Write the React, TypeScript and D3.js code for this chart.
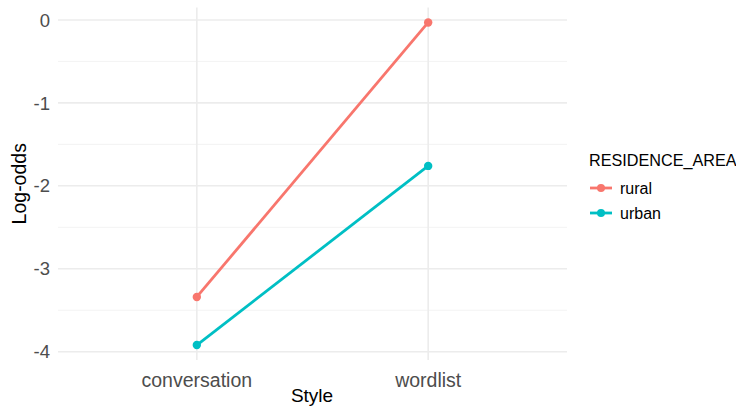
import React from 'react';
import * as d3 from 'd3';

const styles = ['conversation', 'wordlist'];
const areas = ['rural', 'urban'];
const ruralValues = [-3.34, -0.03];
const urbanValues = [-3.92, -1.76];
const yTicks = [0, -1, -2, -3, -4];
const yMinor = [-0.5, -1.5, -2.5, -3.5];
const colors = ['#F8766D', '#00BFC4'];

const W = 736;
const H = 408;
const font = '"Liberation Sans", Arial, Helvetica, sans-serif';

export default function App() {
  const panel = { left: 58, right: 567, top: 7.5, bottom: 360 };

  const x = d3
    .scalePoint<string>()
    .domain(styles)
    .range([panel.left, panel.right])
    .padding(0.6);

  const y = d3.scaleLinear().domain([-4.1, 0.15]).range([panel.bottom, panel.top]);

  const series = [ruralValues, urbanValues];
  const line = d3
    .line<number>()
    .x((_d, i) => x(styles[i]) || 0)
    .y(d => y(d));

  return (
    <svg
      width={W}
      height={H}
      style={{ position: 'absolute', left: 0, top: 0, background: '#fff' }}
      fontFamily={font}
    >
      {/* minor grid */}
      {yMinor.map(t => (
        <line key={'m' + t} x1={panel.left} x2={panel.right} y1={y(t)} y2={y(t)} stroke="#f3f3f3" strokeWidth={1} />
      ))}
      {/* major grid */}
      {yTicks.map(t => (
        <line key={'g' + t} x1={panel.left} x2={panel.right} y1={y(t)} y2={y(t)} stroke="#ececec" strokeWidth={1.6} />
      ))}
      {styles.map(s => (
        <line key={'v' + s} x1={x(s)} x2={x(s)} y1={panel.top} y2={panel.bottom} stroke="#ececec" strokeWidth={1.6} />
      ))}

      {/* lines and points */}
      {series.map((vals, si) => (
        <g key={areas[si]}>
          <path d={line(vals) || ''} fill="none" stroke={colors[si]} strokeWidth={2.8} />
          {vals.map((v, i) => (
            <circle key={i} cx={x(styles[i])} cy={y(v)} r={4.2} fill={colors[si]} />
          ))}
        </g>
      ))}

      {/* y axis labels */}
      {yTicks.map(t => (
        <text key={'yl' + t} x={50} y={y(t)} dy="0.36em" textAnchor="end" fontSize={18.5} fill="#4d4d4d">
          {t === 0 ? '0' : '-' + Math.abs(t)}
        </text>
      ))}
      {/* x axis labels */}
      {styles.map(s => (
        <text key={'xl' + s} x={x(s)} y={387} textAnchor="middle" fontSize={19.5} fill="#4d4d4d">
          {s}
        </text>
      ))}

      {/* axis titles */}
      <text x={312} y={402} textAnchor="middle" fontSize={19} fill="#000">
        Style
      </text>
      <text
        transform={`translate(26,${(panel.top + panel.bottom) / 2}) rotate(-90)`}
        textAnchor="middle"
        fontSize={19.5}
        fill="#000"
      >
        Log-odds
      </text>

      {/* legend */}
      <text x={589} y={166} fontSize={16.2} fill="#000">
        RESIDENCE_AREA
      </text>
      {areas.map((a, i) => (
        <g key={'lg' + a} transform={`translate(590,${188 + i * 25})`}>
          <line x1={0} x2={22} y1={0} y2={0} stroke={colors[i]} strokeWidth={2.8} />
          <circle cx={11} cy={0} r={4} fill={colors[i]} />
          <text x={30} y={0} dy="0.35em" fontSize={16} fill="#000">
            {a}
          </text>
        </g>
      ))}
    </svg>
  );
}
